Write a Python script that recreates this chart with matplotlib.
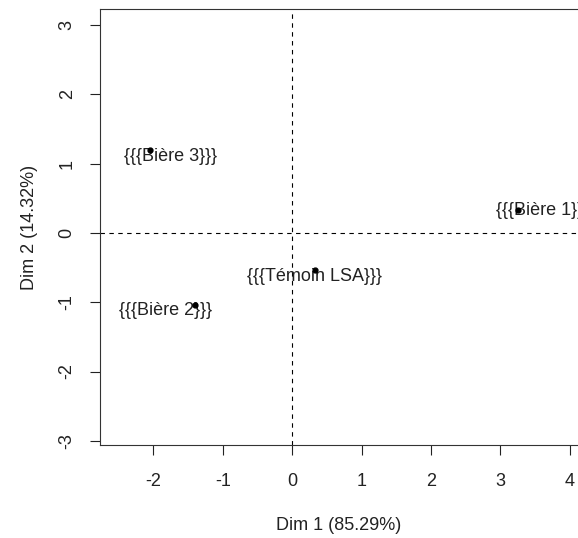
import matplotlib.pyplot as plt

# individuals on the first two PCA dimensions
names = ["{{{Bière 1}}}", "{{{Bière 2}}}", "{{{Bière 3}}}", "{{{Témoin LSA}}}"]
dim1 = [3.26, -1.40, -2.05, 0.33]
dim2 = [0.33, -1.04, 1.20, -0.53]
xticks = [-2, -1, 0, 1, 2, 3, 4]
yticks = [-3, -2, -1, 0, 1, 2, 3]

plt.rcParams["font.family"] = ["Liberation Sans", "DejaVu Sans"]

W, H = 578, 538
fig = plt.figure(figsize=(W / 100, H / 100), dpi=100)
ax = fig.add_axes([100 / W, (H - 445) / H, 478 / W, 436 / H])

ax.set_xlim(-2.77, 4.12)
ax.set_ylim(-3.06, 3.23)

ax.axhline(0, color="black", lw=0.8, linestyle=(0, (4, 4)), zorder=1)
ax.axvline(0, color="black", lw=0.8, linestyle=(0, (4, 4)), zorder=1)

ax.plot(dim1, dim2, "o", color="black", markersize=3.5, zorder=3)

# label offsets in pixels (R places them with a small shift)
offsets = [(24, 0), (-29, -6), (21, -7), (-1, -7)]
for n, x, y, (dx, dy) in zip(names, dim1, dim2, offsets):
    ax.annotate(n, (x, y), xytext=(dx, dy), textcoords="offset pixels",
                ha="center", va="center", fontsize=13, color="#222222", zorder=2)

ax.set_xticks(xticks)
ax.set_yticks(yticks)
ax.set_xticklabels([str(t) for t in xticks])
ax.set_yticklabels([str(t) for t in yticks], rotation=90, va="center")
ax.tick_params(axis="both", direction="out", length=7, width=0.8, labelsize=13,
               color="#222222", labelcolor="#222222")
ax.tick_params(axis="x", pad=13.5)
ax.tick_params(axis="y", pad=10.5)

for s in ["left", "top", "bottom"]:
    ax.spines[s].set_linewidth(0.8)
    ax.spines[s].set_color("#333333")
ax.spines["right"].set_visible(False)

ax.set_xlabel("Dim 1 (85.29%)", fontsize=13, color="#222222", labelpad=19)
ax.set_ylabel("Dim 2 (14.32%)", fontsize=13, color="#222222", labelpad=15)

fig.savefig("out.png", dpi=100)
